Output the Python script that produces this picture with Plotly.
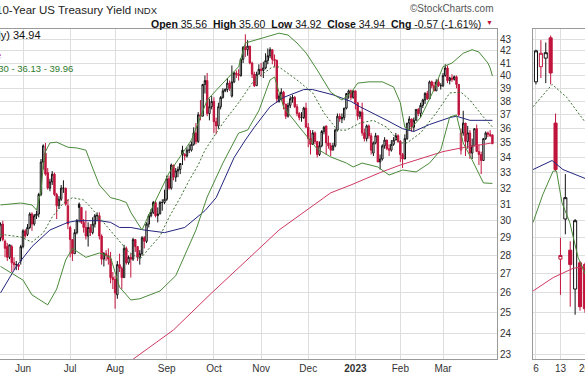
import math
import pandas as pd
import plotly.graph_objects as go

# ---------------- data ----------------
holidays = ["2022-05-30", "2022-06-20", "2022-07-04", "2022-09-05", "2022-11-24",
            "2022-12-26", "2023-01-02", "2023-01-16", "2023-02-20"]
dates = [d for d in pd.bdate_range("2022-05-16", "2023-03-31")
         if d.strftime("%Y-%m-%d") not in holidays]

open_ = [
    29.3, 29.0, 29.8, 28.8, 28.5, 27.9, 28.5, 27.6, 27.5, 27.5, 27.7,  # May
    28.5, 29.4, 29.2, 29.6, 30.4, 29.8, 30.3, 30.4, 31.6, 33.7, 34.3, 33.0, 32.0, 32.4, 32.9, 31.6, 30.9, 31.3, 32.0, 32.0, 30.9,  # Jun
    29.6, 28.9, 28.1, 29.3, 31.0, 30.8, 29.9, 29.6, 29.1, 29.6, 29.3, 29.8, 30.3, 30.3, 29.1, 27.8, 28.1, 28.0, 27.8, 26.8,  # Jul
    26.7, 25.9, 27.5, 27.3, 26.8, 28.4, 27.6, 27.9, 27.8, 28.9, 28.5, 27.9, 28.1, 29.0, 28.8, 29.8, 30.3, 30.5, 31.1, 30.3, 30.4, 31.1, 31.1,  # Aug
    31.3, 32.6, 32.0, 33.5, 32.7, 33.1, 33.2, 34.5, 34.2, 34.1, 34.5, 34.5, 34.9, 35.7, 35.1, 37.0, 36.9, 39.3, 39.6, 37.1, 37.6,  # Sep
    38.0, 36.5, 36.2, 37.6, 38.3, 38.8, 38.9, 39.4, 38.4, 39.5, 40.2, 40.1, 40.0, 41.3, 42.3, 42.1, 42.4, 41.0, 40.1, 39.2, 40.1,  # Oct
    40.5, 40.4, 40.6, 41.2, 41.6, 42.1, 41.3, 41.2, 38.0, 38.2, 38.7, 37.8, 36.9, 37.7, 38.2, 38.3, 37.6, 37.1, 36.8, 36.8, 37.5,  # Nov
    36.1, 35.3, 34.9, 35.7, 35.1, 34.2, 34.8, 35.8, 36.2, 35.0, 34.8, 34.5, 34.8, 35.9, 36.9, 36.7, 36.8, 37.5, 38.6, 38.8, 38.3,  # Dec
    38.8, 37.9, 36.9, 37.2, 35.7, 35.3, 36.2, 35.5, 34.3, 35.0, 35.5, 33.7, 33.9, 34.8, 35.2, 34.6, 34.5, 34.9, 35.2, 35.5,  # Jan
    35.1, 34.2, 33.9, 35.3, 36.4, 36.7, 36.1, 36.6, 37.4, 37.1, 37.7, 38.1, 38.6, 38.2, 39.5, 39.2, 38.8, 39.5, 39.2,  # Feb
    39.2, 40.0, 40.6, 39.6, 39.8, 39.7, 39.9, 39.3, 34.5, 35.7, 36.4, 35.1, 35.7, 34.3, 34.8, 36.0, 34.4, 34.2, 33.8, 35.3, 35.7, 35.6, 35.56,  # Mar
]
high = [
    29.6, 29.9, 30.0, 28.9, 28.7, 28.6, 28.6, 27.9, 27.7, 27.6, 28.6,
    29.5, 29.5, 29.8, 30.5, 30.5, 30.4, 30.6, 31.7, 33.9, 34.9, 35.0, 33.3, 32.6, 33.1, 33.0, 31.7, 31.5, 32.2, 32.5, 32.0, 31.3,
    29.7, 28.9, 29.5, 30.1, 31.1, 30.8, 30.1, 30.6, 29.9, 29.8, 30.2, 30.4, 30.5, 30.5, 29.2, 28.2, 28.3, 28.4, 28.2, 27.1,
    26.9, 27.7, 28.1, 27.4, 28.6, 28.5, 28.0, 28.1, 29.0, 28.9, 28.5, 28.3, 29.1, 29.1, 29.9, 30.4, 30.7, 31.2, 31.2, 30.8, 31.2, 31.3, 31.9,
    32.8, 32.8, 33.6, 33.5, 33.3, 33.4, 33.6, 34.8, 34.3, 34.7, 34.9, 35.1, 36.1, 36.4, 37.2, 38.1, 39.3, 40.0, 40.2, 38.2, 38.4,
    38.3, 36.8, 37.9, 38.4, 39.0, 39.0, 39.8, 39.6, 40.8, 40.3, 40.4, 40.5, 41.4, 42.4, 43.4, 42.9, 42.4, 41.1, 40.3, 40.3, 40.9,
    41.0, 41.1, 41.8, 42.2, 42.3, 42.1, 41.7, 41.3, 38.6, 39.0, 38.8, 37.8, 37.9, 38.4, 38.5, 38.4, 37.8, 37.2, 37.2, 37.6, 37.9,
    36.4, 35.9, 35.9, 35.8, 35.1, 35.1, 35.9, 36.2, 36.2, 35.5, 35.0, 35.0, 36.0, 37.1, 37.1, 37.1, 37.5, 38.6, 38.9, 38.9, 38.8,
    38.8, 37.9, 37.3, 37.9, 36.0, 36.3, 36.3, 35.7, 35.1, 35.7, 35.5, 34.2, 34.9, 35.4, 35.2, 34.9, 35.2, 35.4, 35.7, 35.6,
    35.2, 34.3, 35.6, 36.4, 36.9, 36.7, 36.8, 37.4, 37.5, 37.9, 38.2, 38.7, 38.8, 39.6, 39.6, 39.5, 39.7, 39.8, 39.4,
    40.2, 40.9, 40.8, 39.9, 40.1, 40.0, 40.0, 39.3, 36.0, 37.3, 36.4, 36.2, 35.9, 35.3, 36.0, 36.3, 34.9, 34.4, 35.3, 35.8, 35.8, 35.9, 35.60,
]
low = [
    28.5, 28.8, 28.8, 27.9, 27.7, 27.8, 27.1, 27.2, 27.2, 27.2, 27.5,
    28.4, 29.0, 29.1, 29.5, 29.4, 29.7, 30.1, 30.2, 31.5, 33.2, 32.8, 31.9, 31.8, 32.2, 31.5, 30.1, 30.7, 31.2, 31.7, 30.9, 29.5,
    27.9, 27.7, 28.1, 29.2, 29.9, 29.8, 29.3, 28.9, 28.5, 29.1, 29.2, 29.6, 30.0, 28.9, 27.5, 27.4, 27.7, 27.5, 26.5, 26.2,
    25.2, 25.7, 27.1, 26.2, 26.8, 27.5, 27.5, 26.8, 27.7, 28.2, 27.7, 27.5, 28.0, 28.4, 28.7, 29.6, 30.2, 30.4, 30.2, 29.9, 30.4, 30.6, 31.0,
    31.2, 31.9, 31.9, 32.5, 32.4, 32.7, 32.9, 33.5, 33.8, 34.0, 34.3, 34.4, 34.8, 34.9, 35.0, 36.6, 36.9, 38.6, 36.9, 36.6, 37.4,
    35.7, 35.6, 36.0, 37.4, 38.2, 38.7, 38.7, 38.8, 38.3, 39.4, 39.8, 39.6, 39.9, 41.0, 41.5, 41.6, 40.9, 39.8, 39.1, 39.2, 40.1,
    39.9, 39.8, 40.5, 40.9, 41.4, 40.9, 40.7, 37.9, 37.9, 38.1, 37.4, 36.7, 36.8, 37.5, 37.9, 37.5, 36.9, 36.6, 36.5, 36.7, 36.1,
    34.7, 34.2, 34.9, 34.9, 34.0, 34.1, 34.7, 35.6, 34.2, 34.6, 34.1, 34.5, 34.7, 35.8, 36.5, 36.4, 36.6, 37.4, 38.2, 38.1, 38.2,
    37.4, 36.6, 36.7, 35.5, 35.1, 35.1, 35.3, 34.2, 34.1, 34.9, 33.7, 33.2, 33.8, 34.6, 34.5, 34.1, 34.4, 34.8, 35.2, 35.0,
    33.7, 33.3, 33.9, 35.2, 35.9, 35.8, 35.8, 36.6, 36.9, 36.8, 37.5, 37.8, 38.1, 38.2, 39.0, 38.8, 38.8, 39.1, 38.9,
    39.1, 39.9, 39.4, 39.3, 39.5, 39.6, 39.0, 36.9, 34.2, 35.5, 34.1, 34.6, 33.9, 33.9, 34.8, 34.4, 33.5, 32.9, 33.8, 35.2, 35.4, 35.4, 34.92,
]
close = [
    28.8, 29.8, 28.9, 28.4, 27.9, 28.6, 27.6, 27.5, 27.5, 27.4, 28.5,
    29.4, 29.1, 29.6, 30.4, 29.8, 30.3, 30.4, 31.6, 33.7, 34.8, 32.9, 32.0, 32.4, 32.9, 31.6, 30.9, 31.3, 32.0, 32.0, 31.0, 29.8,
    28.9, 28.1, 29.3, 30.0, 30.8, 29.9, 29.6, 29.1, 29.6, 29.3, 29.8, 30.3, 30.3, 29.1, 27.8, 28.1, 28.0, 27.8, 26.8, 26.7,
    26.0, 27.5, 27.3, 26.8, 28.4, 27.6, 27.9, 27.8, 28.9, 28.5, 27.9, 28.1, 29.0, 28.8, 29.8, 30.3, 30.5, 31.1, 30.3, 30.4, 31.1, 31.1, 31.3,
    32.6, 32.0, 33.5, 32.7, 33.1, 33.2, 33.6, 34.2, 34.1, 34.5, 34.5, 34.9, 35.7, 35.1, 37.0, 36.9, 39.3, 39.6, 37.1, 37.6, 38.0,
    36.5, 36.2, 37.6, 38.3, 38.8, 38.9, 39.4, 39.0, 39.5, 40.2, 40.1, 40.0, 41.3, 42.3, 42.1, 42.4, 41.0, 40.1, 39.2, 40.1, 40.5,
    40.4, 40.6, 41.2, 41.6, 42.1, 41.3, 41.2, 38.2, 38.4, 38.7, 37.8, 36.9, 37.7, 38.2, 38.3, 37.6, 37.1, 36.8, 36.8, 37.5, 36.1,
    35.3, 34.9, 35.7, 35.1, 34.2, 34.8, 35.8, 36.1, 35.0, 34.8, 34.5, 34.8, 35.9, 36.9, 36.7, 36.8, 37.5, 38.6, 38.8, 38.3, 38.8,
    37.9, 36.9, 37.2, 35.7, 35.3, 36.2, 35.5, 34.5, 35.0, 35.5, 33.7, 33.9, 34.8, 35.2, 34.6, 34.5, 34.9, 35.2, 35.5, 35.1,
    34.2, 33.9, 35.3, 36.4, 36.7, 36.1, 36.6, 37.4, 37.1, 37.7, 38.1, 38.6, 38.2, 39.5, 39.2, 38.8, 39.5, 39.2, 39.2,
    40.0, 40.6, 39.6, 39.8, 39.7, 39.9, 39.3, 37.0, 35.7, 36.4, 35.1, 35.7, 34.3, 34.8, 36.0, 34.4, 34.2, 33.8, 35.3, 35.7, 35.6, 35.51, 34.94,
]

# overlays: trading-day number (0 = 2022-05-16) and value
ma50_day = [1, 8, 15, 23, 31, 35, 45, 50, 54, 59, 65, 74, 83, 92, 97, 101, 105, 110, 114, 121,
            127, 136, 140, 149, 157, 161, 166, 173, 180, 185, 192, 201, 204, 210, 215, 220]
ma50 = [26.0, 27.4, 28.5, 29.45, 29.9, 30.0, 30.0, 29.9, 29.6, 29.6, 29.45, 29.3, 29.6, 30.6, 31.4,
        32.7, 34.0, 35.2, 36.1, 37.6, 38.3, 38.9, 38.9, 38.5, 38.0, 37.6, 37.2, 36.6, 36.0, 35.8,
        36.3, 36.8, 36.9, 36.6, 36.6, 36.6]

ma200_day = [50, 60, 78, 95, 112, 125, 148, 157, 170, 179, 198, 206, 220]
ma200 = [22.2, 22.8, 24.16, 26.0, 27.9, 29.45, 31.7, 32.2, 33.0, 33.5, 34.4, 34.65, 35.0]

bbu_day = [1, 10, 15, 17, 19, 20, 21, 23, 26, 31, 35, 39, 42, 45, 50, 54, 57, 59, 62, 64, 68, 76,
           86, 93, 100, 107, 110, 114, 119, 125, 129, 133, 137, 142, 148, 153, 157, 160, 165, 171,
           176, 179, 181, 183, 188, 194, 198, 202, 207, 211, 214, 218, 219, 220]
bb_upper = [30.95, 31.07, 30.95, 30.64, 31.8, 33.4, 34.4, 35.0, 35.05, 34.7, 34.65, 34.5, 33.3,
            32.2, 31.4, 31.26, 31.1, 30.5, 29.86, 29.45, 30.64, 32.97, 35.2, 38.1, 39.4, 40.7,
            42.66, 42.9, 43.2, 43.5, 43.34, 42.66, 41.83, 40.44, 38.7, 38.1, 38.64, 39.4, 39.5,
            39.5, 39.1, 37.9, 36.1, 35.9, 36.8, 38.9, 40.7, 41.0, 41.8, 42.1, 41.9, 41.0, 40.6, 39.96]

bbm_day = [1, 10, 15, 20, 24, 29, 33, 38, 41, 47, 53, 58, 63, 68, 72, 76, 81, 85, 89, 92, 100,
           107, 114, 122, 125, 133, 140, 145, 151, 155, 161, 167, 173, 179, 182, 188, 195, 201,
           206, 210, 216, 220]
bb_middle = [29.2, 29.05, 28.75, 29.28, 30.22, 31.07, 31.4, 31.26, 30.83, 29.86, 28.9, 28.2, 27.8,
             28.5, 29.1, 30.2, 31.4, 32.5, 33.5, 34.5, 36.4, 37.9, 39.65, 40.68, 40.68, 39.65,
             38.64, 37.14, 35.9, 35.9, 36.4, 36.6, 36.1, 35.0, 35.0, 35.7, 37.14, 38.64, 38.7,
             38.1, 36.84, 36.13]

bbl_day = [1, 6, 11, 15, 22, 26, 30, 33, 39, 45, 50, 54, 59, 63, 72, 79, 82, 88, 93, 100, 107,
           111, 116, 121, 123, 127, 134, 142, 148, 155, 158, 162, 169, 174, 180, 186, 192, 197,
           201, 204, 207, 211, 216, 220]
bb_lower = [27.4, 27.05, 26.67, 25.9, 25.39, 26.2, 27.75, 28.4, 27.9, 28.14, 27.9, 26.3, 25.64,
            25.7, 26.1, 26.9, 27.75, 29.45, 31.44, 33.63, 35.69, 35.9, 37.3, 39.65, 39.88, 37.58,
            36.12, 34.58, 34.04, 33.63, 33.37, 33.63, 33.37, 32.84, 33.17, 33.04, 33.63, 34.51,
            36.84, 36.99, 34.99, 33.83, 32.33, 32.30]

# small side panel (right)
panel_open = [39.5, 40.7, 41.4, 43.1, 36.4, 27.8, 30.1, 28.3, 26.2, 27.6, 27.5]
panel_high = [42.1, 42.9, 42.7, 43.3, 37.1, 29.0, 32.9, 28.8, 30.1, 27.7, 27.6]
panel_low = [39.3, 39.8, 39.4, 39.3, 33.1, 25.9, 29.2, 25.3, 24.9, 25.1, 25.0]
panel_close = [42.0, 41.8, 41.85, 40.2, 33.2, 28.0, 31.4, 27.5, 30.0, 25.3, 25.2]
panel_tick_vals = [0, 5, 10]
panel_tick_labels = ["6", "13", "20"]
panel_dot_x = [-0.6, 3.3, 6.3, 9.0, 10.2]
panel_dot = [37.6, 39.3, 38.3, 37.0, 36.4]
panel_blue_x = [-0.6, 3.3, 5.5, 10.2]
panel_blue = [33.2, 33.8, 33.2, 32.6]
panel_green_x = [-0.6, 1.4, 3.5, 4.2, 5.3, 6.9, 8.6, 10.2]
panel_green = [29.9, 31.6, 33.1, 33.1, 31.1, 29.9, 27.9, 26.9]
panel_red_x = [-0.6, 3.5, 7.6, 10.2]
panel_red = [26.1, 26.8, 27.3, 27.4]

y_ticks = list(range(23, 44))

# ---------------- styling ----------------
W, H = 585, 376
TOP, BOT, RIGHT = 29, 359, 497
P_LEFT = 533
FONT = "Liberation Sans, Arial, sans-serif"
BLACK = "#111111"
RED = "#c0143c"
GREEN = "#4a8a3a"
DGREEN = "#3a6e2e"
NAVY = "#23247d"
PINK = "#cf3a62"
GRID = "#dedede"
AXL = "#9a9a9a"

n = len(dates)
assert len(open_) == len(high) == len(low) == len(close) == n, (n, len(open_), len(high), len(low), len(close))
xs = list(range(n))

fig = go.Figure()


def add_candles(xv, o, h, l, c, color, xa, ya):
    fig.add_trace(go.Candlestick(
        x=xv, open=o, high=h, low=l, close=c,
        increasing=dict(line=dict(color=color, width=1), fillcolor="white"),
        decreasing=dict(line=dict(color=color, width=1), fillcolor=color),
        whiskerwidth=0, showlegend=False, hoverinfo="skip", xaxis=xa, yaxis=ya))


def split(o, c):
    up, dn = [], []
    for i in range(len(c)):
        prev = c[i - 1] if i > 0 else o[i]
        (up if c[i] >= prev else dn).append(i)
    return up, dn


up, dn = split(open_, close)
for idx, col in ((up, BLACK), (dn, RED)):
    add_candles([xs[i] for i in idx], [open_[i] for i in idx], [high[i] for i in idx],
                [low[i] for i in idx], [close[i] for i in idx], col, "x", "y")

DOT = "2px,2px"
for dx, dy, col, dash in ((ma200_day, ma200, PINK, "solid"), (ma50_day, ma50, NAVY, "solid"),
                          (bbu_day, bb_upper, GREEN, "solid"), (bbl_day, bb_lower, GREEN, "solid"),
                          (bbm_day, bb_middle, DGREEN, DOT)):
    fig.add_trace(go.Scatter(x=dx, y=dy, mode="lines", line=dict(color=col, width=1, dash=dash),
                             showlegend=False, hoverinfo="skip", xaxis="x", yaxis="y"))

pxs = list(range(len(panel_close)))
pup, pdn = split(panel_open, panel_close)
for idx, col in ((pup, BLACK), (pdn, RED)):
    add_candles([pxs[i] for i in idx], [panel_open[i] for i in idx], [panel_high[i] for i in idx],
                [panel_low[i] for i in idx], [panel_close[i] for i in idx], col, "x2", "y2")
for dx, dy, col, dash in ((panel_red_x, panel_red, PINK, "solid"), (panel_blue_x, panel_blue, NAVY, "solid"),
                          (panel_green_x, panel_green, GREEN, "solid"), (panel_dot_x, panel_dot, DGREEN, DOT)):
    fig.add_trace(go.Scatter(x=dx, y=dy, mode="lines", line=dict(color=col, width=1, dash=dash),
                             showlegend=False, hoverinfo="skip", xaxis="x2", yaxis="y2"))

# month ticks
tickvals, ticktext = [], []
for i, d in enumerate(dates):
    if i > 0 and d.month != dates[i - 1].month:
        tickvals.append(i)
        ticktext.append("<b>%d</b>" % d.year if d.month == 1 else d.strftime("%b"))

i_jun = tickvals[0]
step = 2.246
x0 = i_jun - 23 / step
x1 = i_jun + (RIGHT - 23) / step

# log y range so that 43 sits at y=39 px and 24 at y=333 px
k = 504.7
v_top = 43 * math.exp((39 - TOP) / k)
v_bot = 43 * math.exp(-(BOT - 39) / k)
yr = [math.log10(v_bot), math.log10(v_top)]

tickfont = dict(family=FONT, size=10, color="#333333")
fig.update_layout(
    width=W, height=H, margin=dict(l=0, r=0, t=TOP, b=H - BOT),
    paper_bgcolor="white", plot_bgcolor="white", boxgap=0.1,
    xaxis=dict(domain=[0, RIGHT / W], range=[x0, x1], tickvals=tickvals, ticktext=ticktext,
               showgrid=True, gridcolor=GRID, gridwidth=1, showline=True, linecolor=AXL,
               mirror=True, ticks="", zeroline=False, tickfont=tickfont,
               rangeslider=dict(visible=False), fixedrange=True),
    yaxis=dict(type="log", range=yr, side="right", anchor="x", tickvals=y_ticks,
               ticktext=[str(t) for t in y_ticks], showgrid=True, gridcolor=GRID,
               showline=True, linecolor=AXL, ticks="", zeroline=False, tickfont=tickfont),
    xaxis2=dict(domain=[P_LEFT / W, 1], range=[-0.61, 10.02], tickvals=panel_tick_vals,
                ticktext=panel_tick_labels[:2] + [""], showgrid=True, gridcolor=GRID, showline=True,
                linecolor=AXL, mirror=True, ticks="", zeroline=False, tickfont=tickfont,
                rangeslider=dict(visible=False), anchor="y2"),
    yaxis2=dict(type="log", range=yr, side="left", anchor="x2", tickvals=y_ticks,
                showticklabels=False, showgrid=True, gridcolor=GRID, showline=True,
                linecolor=AXL, ticks="", zeroline=False),
    showlegend=False,
)


def px_x(p):
    return p / W


def px_y(p):
    return (BOT - p) / (BOT - TOP)


chg = close[-1] - close[-2]
pct = chg / close[-2] * 100
ann = [
    dict(text="10-Year US Treasury Yield <span style='font-size:9.5px'>INDX</span>", x=px_x(-6.5), y=px_y(10),
         xanchor="left", yanchor="middle", font=dict(family=FONT, size=11.5, color="#222")),
    dict(text="©StockCharts.com", x=px_x(496), y=px_y(8.5), xanchor="right", yanchor="middle",
         font=dict(family=FONT, size=10, color="#555")),
    dict(text="<b>Open</b> %.2f  <b>High</b> %.2f  <b>Low</b> %.2f  <b>Close</b> %.2f  <b>Chg</b> %.2f (%.2f%%)"
              % (open_[-1], high[-1], low[-1], close[-1], chg, pct),
         x=px_x(483), y=px_y(23.5), xanchor="right", yanchor="middle",
         font=dict(family=FONT, size=10.5, color="#111")),
    dict(text="▼", x=px_x(484), y=px_y(22.5), xanchor="left", yanchor="middle",
         font=dict(family=FONT, size=7, color=RED)),
    dict(text="$TNX (Daily) %.2f" % close[-1], x=px_x(43), y=px_y(35), xanchor="right",
         yanchor="middle", font=dict(family=FONT, size=11, color="#111")),
    dict(text="e", x=px_x(3), y=px_y(55), xanchor="right", yanchor="middle",
         font=dict(family=FONT, size=11, color=RED)),
    dict(text="BB(20,2.0) %.2f - %.2f - %.2f" % (bb_lower[-1], bb_middle[-1], bb_upper[-1]),
         x=px_x(75), y=px_y(68), xanchor="right", yanchor="middle",
         font=dict(family=FONT, size=9.5, color="#2f7a2a")),
]
for a in ann:
    a.update(xref="paper", yref="paper", showarrow=False)
# last week label of the side panel, which runs off the right edge
ann.append(dict(text=panel_tick_labels[2], x=panel_tick_vals[2], xref="x2", y=px_y(368), yref="paper",
                xanchor="center", yanchor="middle", showarrow=False, font=tickfont))
fig.update_layout(annotations=ann)

fig.write_html("out.html", config={"displayModeBar": False},
               post_script="document.body.style.margin='0';document.body.style.overflow='hidden';")
